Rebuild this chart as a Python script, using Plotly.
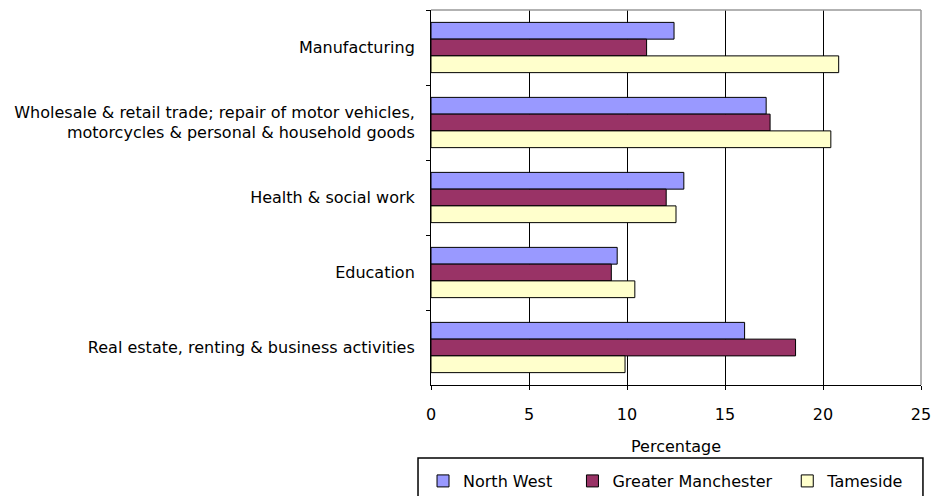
import plotly.graph_objects as go

categories = ["Manufacturing",
              "Wholesale & retail trade; repair of motor vehicles,<br>motorcycles & personal & household goods",
              "Health & social work",
              "Education",
              "Real estate, renting & business activities"]
north_west = [12.4, 17.1, 12.9, 9.5, 16.0]
greater_manchester = [11.0, 17.3, 12.0, 9.2, 18.6]
tameside = [20.8, 20.4, 12.5, 10.4, 9.9]

font = dict(family="DejaVu Sans", size=16, color="black")

fig = go.Figure()
# trailing nbsp's widen the legend entries to the reference spacing
fig.add_trace(go.Bar(y=categories, x=north_west, name="North West\u00a0\u00a0\u00a0", orientation="h",
                     marker=dict(color="#9999FF", line=dict(color="black", width=1))))
fig.add_trace(go.Bar(y=categories, x=greater_manchester, name="Greater Manchester\u00a0\u00a0", orientation="h",
                     marker=dict(color="#993366", line=dict(color="black", width=1))))
fig.add_trace(go.Bar(y=categories, x=tameside, name="Tameside", orientation="h",
                     marker=dict(color="#FFFFCC", line=dict(color="black", width=1))))

fig.update_layout(
    width=933, height=496,
    margin=dict(l=431, r=12, t=10, b=111),
    barmode="group", bargap=0.33, bargroupgap=0,
    plot_bgcolor="white", paper_bgcolor="white",
    font=font,
    legend=dict(orientation="h", xref="container", yref="container",
                x=0.4534, xanchor="left", y=0.0645, yanchor="top",
                borderwidth=0, bgcolor="rgba(0,0,0,0)", font=font,
                traceorder="normal", itemwidth=30),
)
fig.update_xaxes(range=[0, 25], tickvals=[0, 5, 10, 15, 20, 25],
                 showgrid=True, gridcolor="black", gridwidth=1,
                 showline=True, linecolor="black", linewidth=1,
                 ticks="outside", ticklen=4, tickcolor="black",
                 ticklabelstandoff=11, zeroline=False, automargin=False)
fig.update_yaxes(autorange="reversed", tickson="boundaries",
                 showline=True, linecolor="black", linewidth=1,
                 ticks="outside", ticklen=4, tickcolor="black",
                 ticklabelstandoff=12, showgrid=False, automargin=False)

# grey plot-area border on top and right
fig.add_shape(type="line", xref="paper", yref="paper", x0=0, x1=1, y0=1, y1=1,
              line=dict(color="#999999", width=1.5), layer="above")
fig.add_shape(type="line", xref="paper", yref="paper", x0=1, x1=1, y0=0, y1=1,
              line=dict(color="#999999", width=1.5), layer="above")
# legend box, running off the bottom of the page like the reference
fig.add_shape(type="rect", xref="paper", yref="paper", x0=-0.0265, x1=1.004, y0=-0.1947, y1=-0.36,
              line=dict(color="black", width=1.5), layer="above")

fig.add_annotation(text="Percentage", xref="paper", yref="paper", x=0.5, y=-0.163,
                   yanchor="middle", showarrow=False, font=font)

# drop the default page margin so the figure sits at the window's corner
fig.write_html("out.html", config={"displayModeBar": False},
               post_script="document.body.style.margin='0';")
